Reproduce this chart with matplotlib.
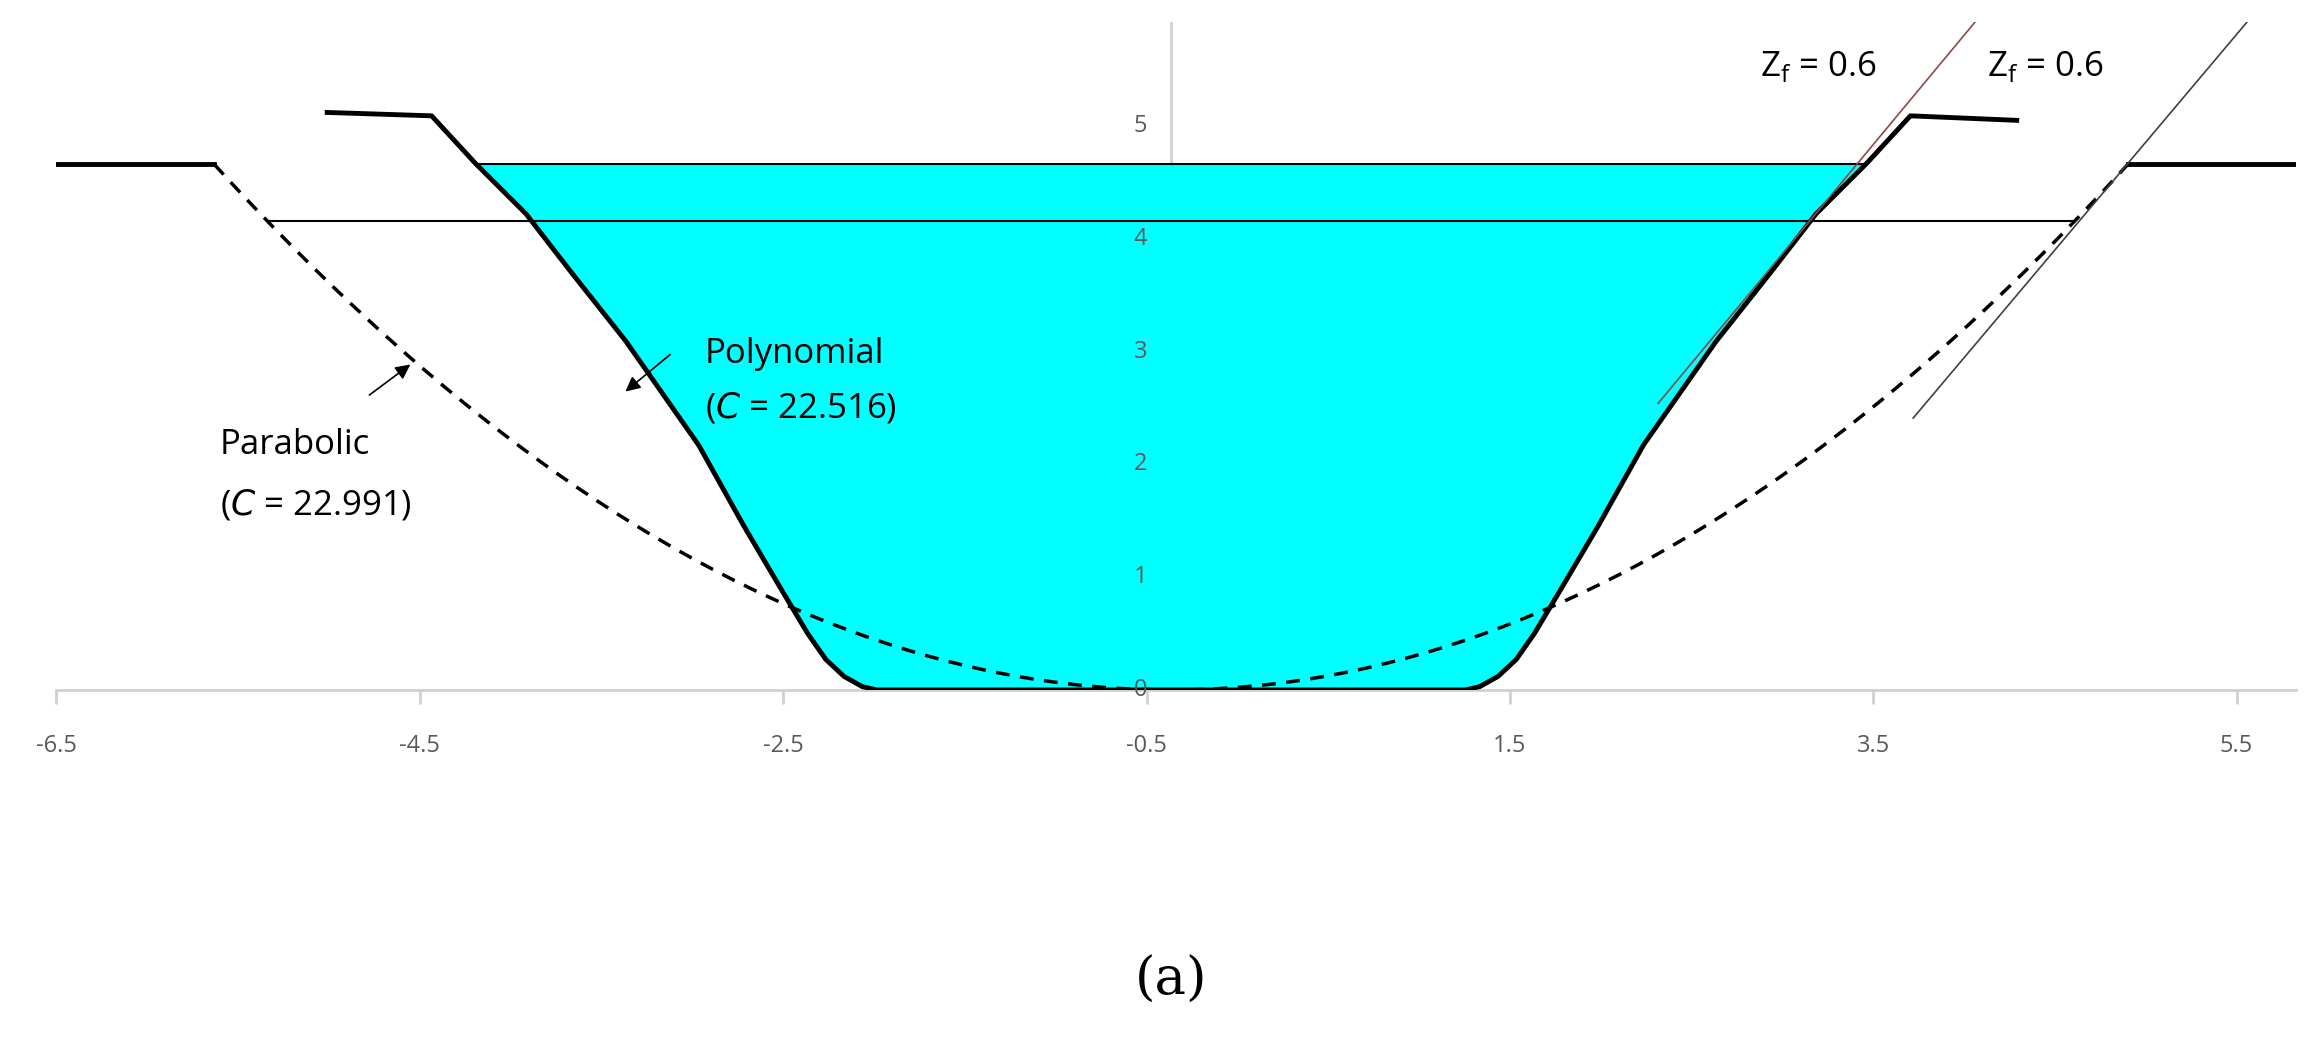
import numpy as np
import matplotlib
matplotlib.use("Agg")
import matplotlib.pyplot as plt

# ---- data (channel coordinates) ----
center = -0.365
poly_d = [1.62, 1.70, 1.80, 1.90, 2.00, 2.13, 2.35, 2.60, 3.00, 3.30, 3.55, 3.83, 4.07]
poly_h = [0.0, 0.03, 0.12, 0.27, 0.50, 0.85, 1.45, 2.17, 3.09, 3.70, 4.22, 4.67, 5.09]
poly_ledge_left = [(-5.01, 5.12), (center - 4.07, 5.09)]
poly_ledge_right = [(center + 4.07, 5.09), (4.29, 5.05)]
para_a = 0.168
para_top = 4.66
water_poly = 4.66
water_para = 4.16
zf1 = [(2.316, 2.54), (4.06, 5.92)]
zf2 = [(3.72, 2.41), (5.557, 5.92)]
xticks = [-6.5, -4.5, -2.5, -0.5, 1.5, 3.5, 5.5]
yticks = [0, 1, 2, 3, 4, 5]

fig = plt.figure(figsize=(23.15, 10.43), dpi=100)
ax = fig.add_axes([0.0244, 0.3385, 0.9676, 0.6402])
ax.set_xlim(-6.5, 5.83)
ax.set_ylim(0, 5.92)
for s in ['top', 'right', 'left']:
    ax.spines[s].set_visible(False)
ax.spines['bottom'].set_color('#d0d0d0')
ax.spines['bottom'].set_linewidth(2)
ax.set_yticks([])
ax.set_xticks(xticks)
ax.set_xticklabels([f"{v:g}" for v in xticks], fontsize=17, color='#595959', family='Open Sans')
ax.tick_params(axis='x', length=10, width=2, color='#d0d0d0', pad=22)
ax.axvline(center, color='#d0d0d0', lw=2, zorder=1)
for v in yticks:
    ax.text(center - 0.13, v, str(v), ha='right', va='center', fontsize=17, color='#595959', family='Open Sans', zorder=6)

d = np.array(poly_d); h = np.array(poly_h)
xl = center - d[::-1]; hl = h[::-1]
xr = center + d
# water fill
mask = h <= water_poly
dw = np.interp(water_poly, h, d)
fx = np.concatenate([[center - dw], center - d[mask][::-1], center + d[mask], [center + dw]])
fy = np.concatenate([[water_poly], h[mask][::-1], h[mask], [water_poly]])
ax.fill(fx, fy, color='#00ffff', zorder=2, lw=0)
ax.plot([center - dw, center + dw], [water_poly, water_poly], color='black', lw=1.5, zorder=3)

# polynomial channel
px = np.concatenate([[poly_ledge_left[0][0]], xl, xr, [poly_ledge_right[1][0]]])
py = np.concatenate([[poly_ledge_left[0][1]], hl, h, [poly_ledge_right[1][1]]])
ax.plot(px, py, color='black', lw=3.5, zorder=5, solid_joinstyle='round')

# parabolic channel
dp = np.sqrt(para_top / para_a)
xs = np.linspace(-dp, dp, 200)
ax.plot(center + xs, para_a * xs**2, color='black', lw=2.5, ls=(0, (4, 3)), zorder=4)
ax.plot([-6.5, center - dp], [para_top, para_top], color='black', lw=3.5, zorder=4)
ax.plot([center + dp, 5.83], [para_top, para_top], color='black', lw=3.5, zorder=4)
dw2 = np.sqrt(water_para / para_a)
ax.plot([center - dw2, center + dw2], [water_para, water_para], color='black', lw=1.5, zorder=3)

# Zf lines
ax.plot(*zip(*zf1), color='#8b4a4a', lw=1.2, zorder=6)
ax.plot(*zip(*zf2), color='#404040', lw=1.2, zorder=6)
tf = dict(fontsize=25, family='Open Sans', ha='center', va='center')
ax.text(3.2, 5.53, r'Z$_\mathregular{f}$ = 0.6', **tf)
ax.text(4.45, 5.53, r'Z$_\mathregular{f}$ = 0.6', **tf)

# annotations
ta = dict(fontsize=25, family='Open Sans', ha='left', va='center')
ax.text(-2.93, 2.98, 'Polynomial', **ta)
ax.text(-2.93, 2.5, r'($\mathit{C}$ = 22.516)', **ta)
ax.annotate('', xy=(-3.38, 2.63), xytext=(-3.11, 2.99),
            arrowprops=dict(arrowstyle='-|>', color='black', lw=1.2, mutation_scale=22))
ax.text(-5.6, 2.17, 'Parabolic', **ta)
ax.text(-5.6, 1.64, r'($\mathit{C}$ = 22.991)', **ta)
ax.annotate('', xy=(-4.54, 2.9), xytext=(-4.79, 2.6),
            arrowprops=dict(arrowstyle='-|>', color='black', lw=1.2, mutation_scale=22))

fig.text(0.506, 0.06, '(a)', fontsize=38, family='DejaVu Serif', ha='center', va='center')
fig.savefig('out.png', dpi=100)
